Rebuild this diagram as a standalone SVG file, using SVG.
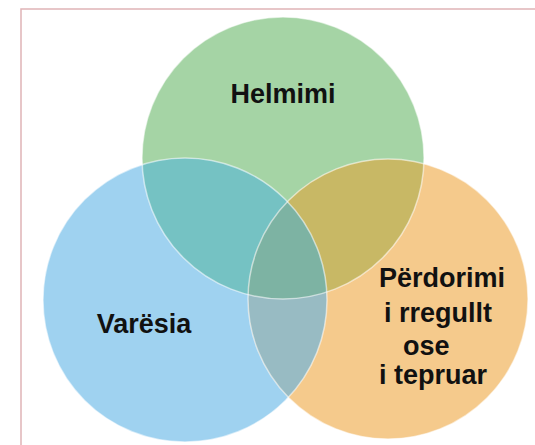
<svg xmlns="http://www.w3.org/2000/svg" width="535" height="445" viewBox="0 0 535 445">
  <style>
    .lbl { font-family: "Liberation Sans", Arial, sans-serif; font-weight: bold; font-size: 27px; fill: #111111; }
    .edge { fill: none; stroke: #ffffff; stroke-opacity: 0.55; stroke-width: 1.5; }
  </style>
  <defs>
    <clipPath id="clipGreen"><circle cx="283" cy="158" r="141"/></clipPath>
    <clipPath id="clipBlue"><circle cx="185" cy="300" r="142"/></clipPath>
  </defs>
  <rect x="0" y="0" width="535" height="445" fill="#ffffff"/>
  <rect id="frame" x="21" y="9" width="530" height="450" fill="#ffffff" stroke="#dfb4b6" stroke-width="1.5"/>

  <g id="helmimi">
    <circle cx="283" cy="158" r="141" fill="#a5d4a5"/>
    <text class="lbl" x="283" y="103" text-anchor="middle">Helmimi</text>
  </g>
  <g id="varesia">
    <circle cx="185" cy="300" r="142" fill="#9fd2f0"/>
    <text class="lbl" x="144" y="333" text-anchor="middle">Varësia</text>
  </g>
  <g id="perdorimi">
    <circle cx="388" cy="299" r="140" fill="#f5ca8c"/>
    <text class="lbl">
      <tspan x="379" y="287">Përdorimi</tspan>
      <tspan x="384" y="322">i rregullt</tspan>
      <tspan x="403" y="355">ose</tspan>
      <tspan x="379" y="384">i tepruar</tspan>
    </text>
  </g>

  <g id="overlaps">
    <circle cx="185" cy="300" r="142" fill="#75c2c3" clip-path="url(#clipGreen)"/>
    <circle cx="388" cy="299" r="140" fill="#c8b865" clip-path="url(#clipGreen)"/>
    <circle cx="388" cy="299" r="140" fill="#98bbc3" clip-path="url(#clipBlue)"/>
    <g clip-path="url(#clipBlue)">
      <circle cx="388" cy="299" r="140" fill="#7db3a3" clip-path="url(#clipGreen)"/>
    </g>
  </g>

  <g id="outlines">
    <circle class="edge" cx="283" cy="158" r="141"/>
    <circle class="edge" cx="185" cy="300" r="142"/>
    <circle class="edge" cx="388" cy="299" r="140"/>
  </g>
</svg>
